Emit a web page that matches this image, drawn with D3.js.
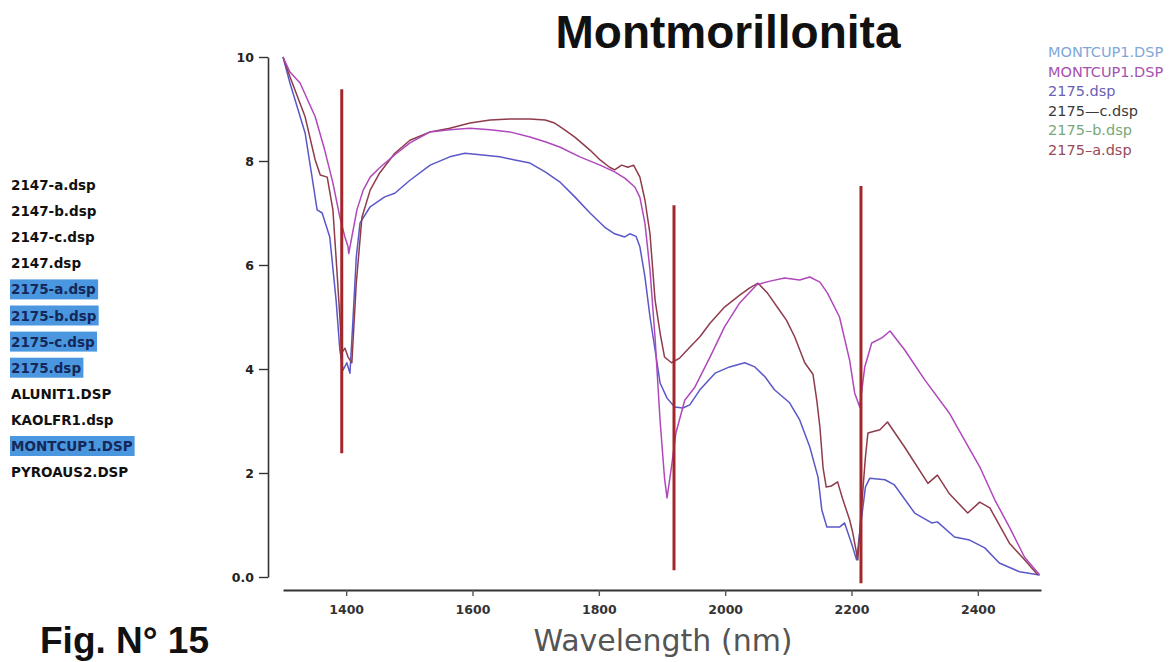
<!DOCTYPE html>
<html>
<head>
<meta charset="utf-8">
<script src="https://cdn.jsdelivr.net/npm/d3@7"></script>
<style>
  html, body { margin: 0; padding: 0; background: #fff; }
  svg { display: block; }
</style>
</head>
<body>
<svg id="chart" width="1173" height="662"></svg>
<script>
// ---------------- DATA ----------------
const chartTitle = "Montmorillonita";
const figLabel = "Fig. N° 15";
const xLabel = "Wavelength (nm)";

const xTicks = [1400, 1600, 1800, 2000, 2200, 2400];
const yTicks = [0, 2, 4, 6, 8, 10];
const yTickLabels = ["0.0", "2", "4", "6", "8", "10"];

// spectrum: MONTCUP1.DSP (magenta) [wavelength nm, reflectance]
const montcupSpectrum = [
  [1300,10.0],[1311,9.71],[1327,9.5],[1351,8.85],[1366,8.21],[1379,7.58],[1390,6.92],
  [1398,6.54],[1403,6.35],[1404,6.22],[1409,6.54],[1417,7.06],[1427,7.44],[1438,7.69],
  [1453,7.87],[1477,8.12],[1501,8.35],[1533,8.56],[1564,8.6],[1596,8.63],[1628,8.6],
  [1659,8.56],[1691,8.46],[1715,8.37],[1738,8.27],[1770,8.08],[1802,7.92],[1825,7.79],
  [1841,7.67],[1857,7.5],[1865,7.3],[1873,6.8],[1881,5.9],[1889,4.6],[1897,3.0],
  [1904,1.9],[1908,1.52],[1915,2.12],[1922,2.77],[1936,3.4],[1952,3.65],[1976,4.23],
  [1999,4.81],[2023,5.27],[2050,5.62],[2071,5.69],[2094,5.75],[2118,5.71],[2134,5.77],
  [2150,5.67],[2162,5.46],[2181,5.0],[2197,4.17],[2205,3.54],[2213,3.27],[2221,4.04],
  [2232,4.5],[2248,4.6],[2261,4.73],[2284,4.37],[2316,3.79],[2355,3.15],[2368,2.87],
  [2403,2.12],[2427,1.48],[2450,0.96],[2474,0.38],[2498,0.04]
];

// spectrum: 2175-a.dsp (brown-red)
const s2175aSpectrum = [
  [1300,10.0],[1311,9.62],[1335,8.85],[1351,8.02],[1359,7.73],[1370,7.69],[1379,7.06],
  [1385,5.96],[1390,5.0],[1393,4.31],[1398,4.4],[1403,4.23],[1409,4.12],[1416,5.65],
  [1425,6.92],[1438,7.44],[1453,7.77],[1477,8.15],[1501,8.4],[1533,8.56],[1564,8.63],
  [1596,8.73],[1628,8.79],[1659,8.81],[1691,8.81],[1715,8.79],[1730,8.73],[1746,8.6],
  [1762,8.46],[1786,8.21],[1802,8.02],[1817,7.88],[1825,7.83],[1836,7.92],[1846,7.88],
  [1855,7.92],[1865,7.69],[1873,7.25],[1881,6.6],[1889,5.33],[1897,4.69],[1904,4.23],
  [1915,4.12],[1928,4.21],[1944,4.42],[1960,4.62],[1976,4.88],[1999,5.19],[2023,5.42],
  [2039,5.56],[2052,5.65],[2067,5.46],[2086,5.13],[2097,4.94],[2110,4.62],[2126,4.12],
  [2139,3.9],[2145,3.4],[2150,2.88],[2155,2.1],[2160,1.73],[2168,1.75],[2178,1.83],
  [2186,1.5],[2197,1.1],[2202,0.85],[2210,0.33],[2215,1.2],[2222,2.3],[2226,2.77],
  [2245,2.83],[2257,2.98],[2284,2.5],[2321,1.8],[2336,1.96],[2355,1.6],[2384,1.23],
  [2403,1.44],[2419,1.33],[2450,0.65],[2474,0.33],[2495,0.04]
];

// spectrum: 2175.dsp (blue)
const s2175Spectrum = [
  [1300,10.0],[1311,9.5],[1335,8.54],[1346,7.69],[1354,7.06],[1362,7.0],[1374,6.54],
  [1384,5.33],[1390,4.37],[1395,3.98],[1401,4.12],[1406,3.92],[1411,5.0],[1416,6.15],
  [1422,6.81],[1438,7.12],[1461,7.31],[1477,7.38],[1501,7.63],[1533,7.92],[1564,8.08],
  [1588,8.15],[1612,8.12],[1643,8.08],[1667,8.02],[1691,7.96],[1715,7.79],[1738,7.6],
  [1762,7.31],[1786,7.0],[1809,6.73],[1825,6.6],[1841,6.54],[1849,6.6],[1859,6.55],
  [1865,6.35],[1873,5.77],[1881,5.0],[1889,4.37],[1897,3.73],[1908,3.44],[1920,3.27],
  [1933,3.25],[1944,3.31],[1960,3.6],[1984,3.92],[2007,4.04],[2031,4.12],[2047,4.04],
  [2063,3.85],[2078,3.6],[2102,3.35],[2118,3.02],[2134,2.5],[2147,1.92],[2153,1.29],
  [2161,0.96],[2181,0.96],[2189,1.04],[2200,0.65],[2208,0.33],[2213,0.85],[2222,1.73],
  [2229,1.9],[2253,1.87],[2268,1.77],[2300,1.23],[2327,1.04],[2336,1.06],[2363,0.77],
  [2387,0.71],[2411,0.56],[2434,0.27],[2466,0.1],[2498,0.04]
];

// absorption marker lines: wavelength, top value, bottom value
const markerWavelengths = [1393, 1919, 2215];
const markerTops = [9.38, 7.15, 7.52];
const markerBottoms = [2.38, 0.13, -0.12];

// right legend
const legendNames = ["MONTCUP1.DSP", "MONTCUP1.DSP", "2175.dsp", "2175\u2014c.dsp", "2175\u2013b.dsp", "2175\u2013a.dsp"];
const legendColors = ["#7fa8d8", "#a552b0", "#6a5fb5", "#3a3a3a", "#78a878", "#9a4a58"];

// left file list
const fileNames = ["2147-a.dsp", "2147-b.dsp", "2147-c.dsp", "2147.dsp", "2175-a.dsp", "2175-b.dsp",
  "2175-c.dsp", "2175.dsp", "ALUNIT1.DSP", "KAOLFR1.dsp", "MONTCUP1.DSP", "PYROAUS2.DSP"];
const fileSelected = [false, false, false, false, true, true, true, true, false, false, true, false];

// ---------------- DRAW ----------------
const svg = d3.select("#chart");

const x = d3.scaleLinear().domain([1300, 2500]).range([283, 1041]);
const y = d3.scaleLinear().domain([0, 10]).range([577, 57]);

// y axis
const yAxis = d3.axisLeft(y).tickValues(yTicks)
  .tickFormat((d, i) => yTickLabels[i]).tickSize(9).tickPadding(5).tickSizeOuter(0);
const gy = svg.append("g").attr("transform", "translate(268,0)").call(yAxis);
gy.select(".domain").attr("stroke", "#333").attr("stroke-width", 1.6);
gy.selectAll(".tick line").attr("stroke", "#333").attr("stroke-width", 1.4);
gy.selectAll(".tick text").attr("font-family", "'DejaVu Sans', sans-serif")
  .attr("font-size", 12.5).attr("fill", "#222").attr("font-weight", "bold");

// x axis
const xAxis = d3.axisBottom(x).tickValues(xTicks).tickFormat(d3.format("d"))
  .tickSize(6).tickPadding(9).tickSizeOuter(0);
const gx = svg.append("g").attr("transform", "translate(0,590)").call(xAxis);
gx.select(".domain").attr("stroke", "#333").attr("stroke-width", 2);
gx.selectAll(".tick line").attr("stroke", "#555").attr("stroke-width", 1.4);
gx.selectAll(".tick text").attr("font-family", "'DejaVu Sans', sans-serif")
  .attr("font-size", 12.5).attr("fill", "#333").attr("font-weight", "bold");

// spectra
const line = d3.line().x(d => x(d[0])).y(d => y(d[1])).curve(d3.curveLinear);
const spectra = [
  { data: s2175Spectrum, color: "#5a58c8" },
  { data: s2175aSpectrum, color: "#8e3c4c" },
  { data: montcupSpectrum, color: "#b048bc" }
];
svg.append("g").selectAll("path").data(spectra).join("path")
  .attr("d", d => line(d.data))
  .attr("fill", "none")
  .attr("stroke", d => d.color)
  .attr("stroke-width", 1.5)
  .attr("stroke-linejoin", "round");

// marker lines
svg.append("g").selectAll("line").data(markerWavelengths).join("line")
  .attr("x1", d => x(d)).attr("x2", d => x(d))
  .attr("y1", (d, i) => y(markerTops[i])).attr("y2", (d, i) => y(markerBottoms[i]))
  .attr("stroke", "#a3262b").attr("stroke-width", 3);

// title
svg.append("text").attr("x", 728).attr("y", 48).attr("text-anchor", "middle")
  .attr("font-family", "'Liberation Sans', Arial, sans-serif").attr("font-weight", "bold")
  .attr("font-size", 46).attr("fill", "#111").text(chartTitle);

// x label
svg.append("text").attr("x", 663).attr("y", 651).attr("text-anchor", "middle")
  .attr("font-family", "'DejaVu Sans', sans-serif")
  .attr("font-size", 30).attr("fill", "#555").text(xLabel);

// fig label
svg.append("text").attr("x", 40).attr("y", 653)
  .attr("font-family", "'Liberation Sans', Arial, sans-serif").attr("font-weight", "bold")
  .attr("font-size", 37).attr("fill", "#111").text(figLabel);

// right legend
svg.append("g").selectAll("text").data(legendNames).join("text")
  .attr("x", 1048).attr("y", (d, i) => 57 + i * 19.6)
  .attr("font-family", "'DejaVu Sans', sans-serif").attr("font-size", 14.5)
  .attr("fill", (d, i) => legendColors[i]).text(d => d);

// left file list
const list = svg.append("g");
const items = list.selectAll("g").data(fileNames).join("g")
  .attr("transform", (d, i) => `translate(11, ${185 + i * 26.1})`);
items.append("text")
  .attr("y", 5)
  .attr("font-family", "'DejaVu Sans', sans-serif").attr("font-weight", "bold")
  .attr("font-size", 13.5)
  .attr("fill", (d, i) => fileSelected[i] ? "#14285a" : "#111")
  .text(d => d);
items.each(function(d, i) {
  if (!fileSelected[i]) return;
  const g = d3.select(this);
  const bb = g.select("text").node().getBBox();
  g.insert("rect", "text")
    .attr("x", bb.x - 1).attr("y", -10).attr("width", bb.width + 3).attr("height", 20)
    .attr("fill", "#4a97e0");
});
</script>
</body>
</html>
